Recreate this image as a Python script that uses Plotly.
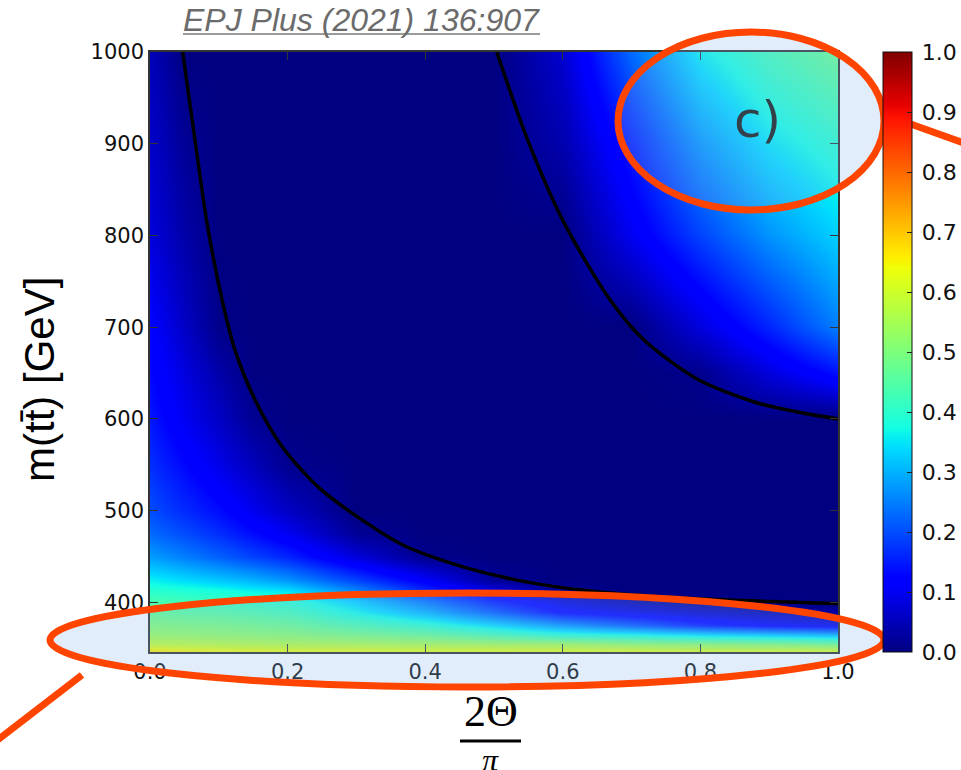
import plotly.graph_objects as go

# ---------------- data ----------------
theta_frac = [0.0, 0.05, 0.1, 0.15, 0.2, 0.3, 0.4, 0.5, 0.6, 0.7, 0.8, 0.9, 1.0]
mass_gev = [346, 355, 365, 375, 390, 400, 412, 425, 450, 475, 500, 550, 600, 650, 700, 800, 900, 1000]

concurrence = [
    [0.68, 0.665, 0.655, 0.65, 0.645, 0.64, 0.64, 0.64, 0.635, 0.635, 0.63, 0.63, 0.63],  # 346
    [0.59, 0.585, 0.58, 0.575, 0.57, 0.565, 0.56, 0.555, 0.55, 0.53, 0.52, 0.51, 0.49],   # 355
    [0.54, 0.535, 0.53, 0.525, 0.52, 0.50, 0.48, 0.44, 0.40, 0.38, 0.35, 0.33, 0.31],     # 365
    [0.51, 0.505, 0.50, 0.49, 0.48, 0.44, 0.40, 0.34, 0.27, 0.21, 0.15, 0.11, 0.09],      # 375
    [0.47, 0.46, 0.455, 0.445, 0.43, 0.37, 0.30, 0.21, 0.12, 0.09, 0.06, 0.04, 0.03],     # 390
    [0.44, 0.43, 0.42, 0.41, 0.40, 0.33, 0.24, 0.15, 0.08, 0.04, 0.015, 0.005, 0.0],      # 400
    [0.40, 0.39, 0.38, 0.365, 0.35, 0.26, 0.17, 0.09, 0.02, 0.0, 0.0, 0.0, 0.0],          # 412
    [0.36, 0.34, 0.32, 0.30, 0.27, 0.19, 0.11, 0.02, 0.0, 0.0, 0.0, 0.0, 0.0],            # 425
    [0.28, 0.25, 0.22, 0.19, 0.16, 0.08, 0.01, 0.0, 0.0, 0.0, 0.0, 0.0, 0.0],             # 450
    [0.23, 0.20, 0.17, 0.135, 0.10, 0.02, 0.0, 0.0, 0.0, 0.0, 0.0, 0.0, 0.0],             # 475
    [0.20, 0.166, 0.135, 0.097, 0.06, 0.0, 0.0, 0.0, 0.0, 0.0, 0.0, 0.0, 0.0],            # 500
    [0.17, 0.13, 0.09, 0.051, 0.012, 0.0, 0.0, 0.0, 0.0, 0.0, 0.0, 0.0, 0.0],             # 550
    [0.145, 0.10, 0.06, 0.016, 0.0, 0.0, 0.0, 0.0, 0.0, 0.0, 0.0, 0.0, 0.0],              # 600
    [0.13, 0.083, 0.035, 0.0, 0.0, 0.0, 0.0, 0.0, 0.0, 0.0, 0.01, 0.08, 0.14],            # 650
    [0.115, 0.061, 0.008, 0.0, 0.0, 0.0, 0.0, 0.0, 0.0, 0.0, 0.08, 0.16, 0.25],           # 700
    [0.08, 0.035, 0.0, 0.0, 0.0, 0.0, 0.0, 0.0, 0.0, 0.10, 0.19, 0.27, 0.33],             # 800
    [0.065, 0.019, 0.0, 0.0, 0.0, 0.0, 0.0, 0.0, 0.04, 0.15, 0.27, 0.35, 0.40],           # 900
    [0.05, 0.0, 0.0, 0.0, 0.0, 0.0, 0.0, 0.0, 0.07, 0.23, 0.36, 0.43, 0.48],              # 1000
]

# zero-level contour lines (black)
contour_low_x = [0.0475, 0.0654, 0.0828, 0.1047, 0.1235, 0.1526, 0.1919, 0.2442, 0.3081, 0.3721,
                 0.468, 0.5654, 0.6613, 0.799, 1.0]
contour_low_y = [1000, 904, 814, 730, 675, 621, 570, 526, 490, 461, 436, 420, 411, 404, 399]
contour_high_x = [0.504, 0.549, 0.6017, 0.6686, 0.718, 0.7965, 0.8808, 0.9448, 1.0]
contour_high_y = [1000, 904, 814, 730, 686, 643, 618, 607, 600]

x_ticks = [0.0, 0.2, 0.4, 0.6, 0.8, 1.0]
x_ticklabels = ["0.0", "0.2", "0.4", "0.6", "0.8", "1.0"]
y_ticks = [400, 500, 600, 700, 800, 900, 1000]
cb_ticks = [0.0, 0.1, 0.2, 0.3, 0.4, 0.5, 0.6, 0.7, 0.8, 0.9, 1.0]
cb_ticklabels = ["0.0", "0.1", "0.2", "0.3", "0.4", "0.5", "0.6", "0.7", "0.8", "0.9", "1.0"]

# matplotlib "jet"
jet = [[0.0, 'rgb(0,0,128)'], [0.11, 'rgb(0,0,255)'], [0.125, 'rgb(0,0,255)'],
       [0.34, 'rgb(0,219,255)'], [0.35, 'rgb(0,230,247)'], [0.375, 'rgb(21,255,226)'],
       [0.64, 'rgb(239,255,8)'], [0.65, 'rgb(247,245,0)'], [0.66, 'rgb(255,236,0)'],
       [0.89, 'rgb(255,19,0)'], [0.91, 'rgb(232,0,0)'], [1.0, 'rgb(128,0,0)']]

# ---------------- layout geometry (pixels) ----------------
W, H = 961, 770
L, R, T, B = 150, 838, 52, 652


def px(xp):
    return (xp - L) / (R - L)


def py(yp):
    return (B - yp) / (B - T)


TICKFONT = dict(family="DejaVu Sans", size=21, color="#111111")
RED = "#ff4400"

fig = go.Figure()
fig.add_trace(go.Heatmap(
    x=theta_frac, y=mass_gev, z=concurrence,
    zmin=0, zmax=1, zsmooth="best", colorscale=jet,
    colorbar=dict(
        xref="container", yref="paper",
        x=883 / W, xanchor="left", y=0.5, yanchor="middle",
        len=1.0, lenmode="fraction", thickness=29, thicknessmode="pixels",
        outlinewidth=1, outlinecolor="#111111",
        tickvals=cb_ticks, ticktext=["\u2009" + t for t in cb_ticklabels],
        ticks="inside", ticklen=5, tickcolor="#222222",
        tickfont=dict(family="DejaVu Sans", size=22, color="#111111"),
        xpad=0, ypad=0,
    ),
    hoverinfo="skip",
))
for cx, cy in ((contour_low_x, contour_low_y), (contour_high_x, contour_high_y)):
    fig.add_trace(go.Scatter(x=cx, y=cy, mode="lines",
                             line=dict(color="black", width=3.5, shape="spline", smoothing=0.8),
                             hoverinfo="skip", showlegend=False))

fig.update_layout(
    width=W, height=H,
    margin=dict(l=L, r=W - R, t=T, b=H - B, pad=0),
    paper_bgcolor="white", plot_bgcolor="white",
    showlegend=False,
    xaxis=dict(range=[0, 1], tickvals=x_ticks, ticktext=x_ticklabels,
               ticks="inside", ticklen=8, tickcolor="#333333", tickwidth=1,
               showline=True, linecolor="#333333", linewidth=1.5, mirror="ticks",
               showgrid=False, zeroline=False, tickfont=TICKFONT),
    yaxis=dict(range=[346, 1000], tickvals=y_ticks,
               ticks="inside", ticklen=8, tickcolor="#333333", tickwidth=1,
               showline=True, linecolor="#333333", linewidth=1.5, mirror="ticks",
               showgrid=False, zeroline=False, tickfont=TICKFONT),
)

# ---------------- annotations ----------------
fig.add_annotation(x=px(361), y=py(20), xref="paper", yref="paper", showarrow=False,
                   text="<i>EPJ Plus (2021) 136:907</i>",
                   font=dict(family="Liberation Sans", size=32, color="#6b6b6b"),
                   xanchor="center", yanchor="middle")
fig.add_shape(type="line", xref="paper", yref="paper", x0=px(183), x1=px(540), y0=py(34), y1=py(34),
              line=dict(color="#7a7a7a", width=1.5))

fig.add_annotation(x=px(39), y=py(380), xref="paper", yref="paper", showarrow=False,
                   text="m(tt\u0304) [GeV]", textangle=-90,
                   font=dict(family="Liberation Sans", size=42, color="black"),
                   xanchor="center", yanchor="middle")

# x-axis label: fraction 2Θ / π
fig.add_annotation(x=px(491), y=py(738), xref="paper", yref="paper", showarrow=False,
                   text="2Θ", font=dict(family="Liberation Serif", size=44, color="black"),
                   xanchor="center", yanchor="bottom")
fig.add_shape(type="line", xref="paper", yref="paper", x0=px(460), x1=px(521), y0=py(741), y1=py(741),
              line=dict(color="black", width=3))
fig.add_annotation(x=px(490), y=py(740), xref="paper", yref="paper", showarrow=False,
                   text="<i>π</i>", font=dict(family="Liberation Serif", size=32, color="black"),
                   xanchor="center", yanchor="top")

# highlight ellipses and pointer lines
fig.add_shape(type="circle", xref="paper", yref="paper", layer="above",
              x0=px(50), x1=px(884), y0=py(687), y1=py(593),
              fillcolor="rgba(135,185,240,0.25)", line=dict(color=RED, width=7))
fig.add_shape(type="circle", xref="paper", yref="paper", layer="above",
              x0=px(618), x1=px(884), y0=py(210), y1=py(32),
              fillcolor="rgba(135,185,240,0.25)", line=dict(color=RED, width=7))
fig.add_shape(type="line", xref="paper", yref="paper", layer="above",
              x0=px(82), y0=py(675), x1=px(-5), y1=py(742), line=dict(color=RED, width=7))
fig.add_shape(type="line", xref="paper", yref="paper", layer="above",
              x0=px(905), y0=py(122), x1=px(975), y1=py(147), line=dict(color=RED, width=7))

fig.add_annotation(x=px(757), y=py(120), xref="paper", yref="paper", showarrow=False,
                   text="c)", font=dict(family="DejaVu Sans", size=50, color="#34404a"),
                   xanchor="center", yanchor="middle")

fig.write_html("out.html")
